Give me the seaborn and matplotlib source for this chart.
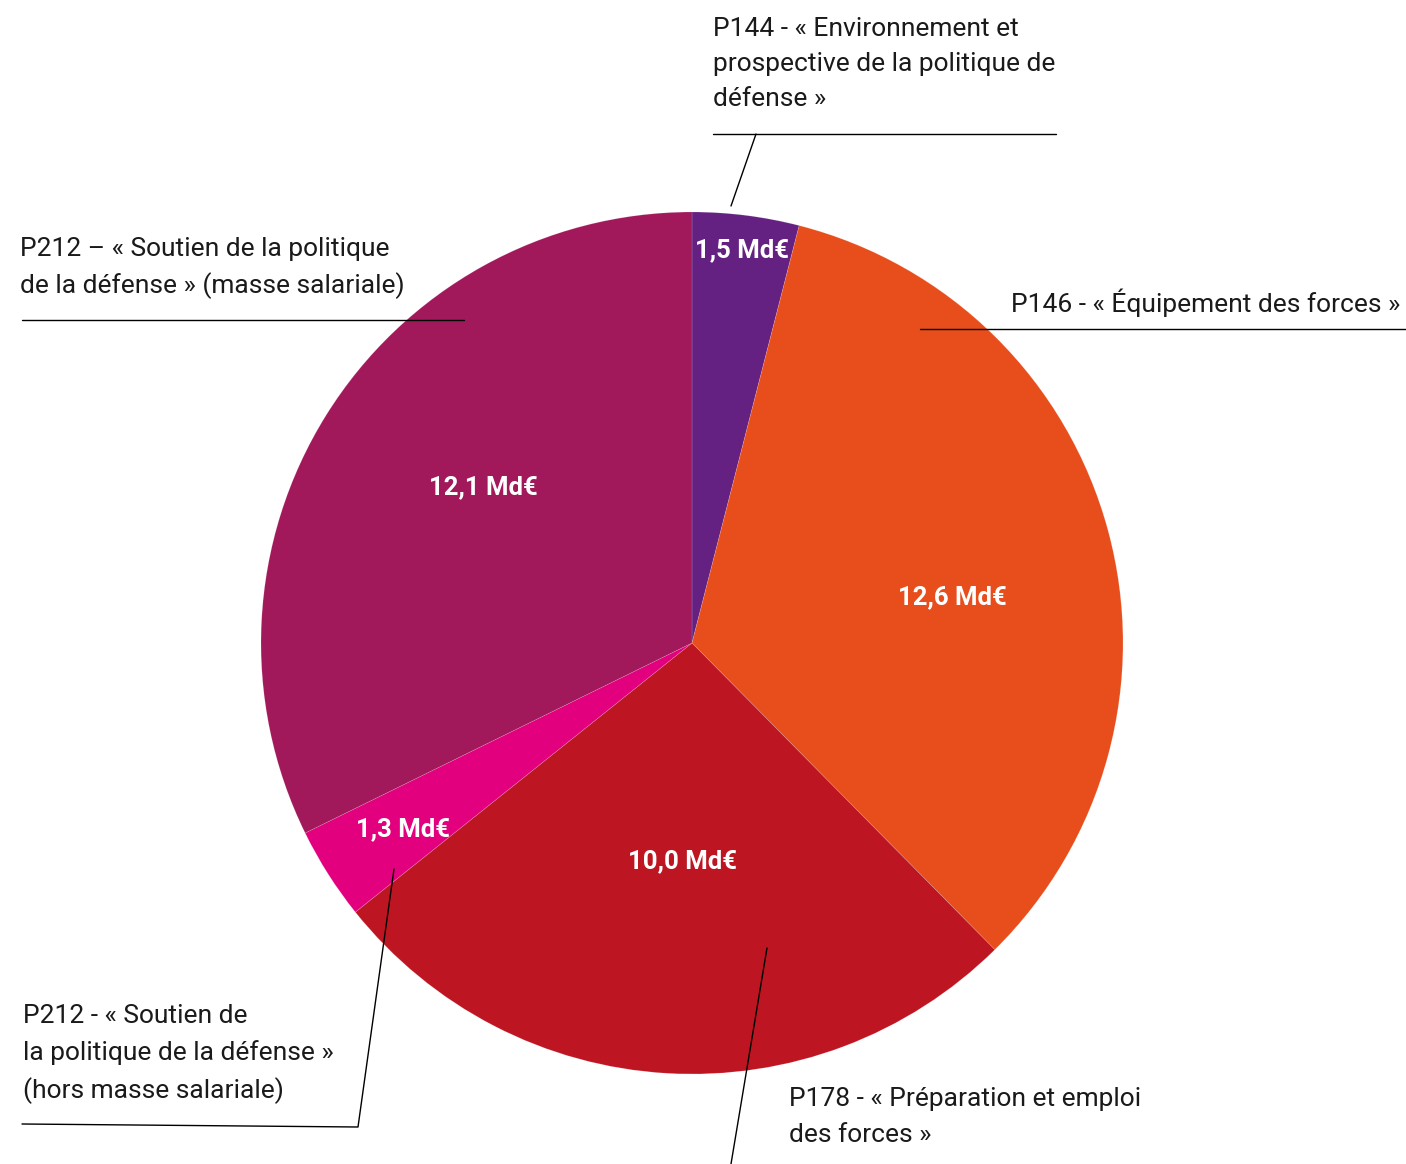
import matplotlib
matplotlib.use("Agg")
import matplotlib.pyplot as plt
import seaborn as sns

# ---- data ----
programmes = [
    "P144 - « Environnement et\nprospective de la politique de\ndéfense »",
    "P146 - « Équipement des forces »",
    "P178 - « Préparation et emploi\ndes forces »",
    "P212 - « Soutien de\nla politique de la défense »\n(hors masse salariale)",
    "P212 – « Soutien de la politique\nde la défense » (masse salariale)",
]
values = [1.5, 12.6, 10.0, 1.3, 12.1]
colors = ["#642181", "#E84E1C", "#BD1622", "#E3007E", "#A1195B"]

W, H = 1406, 1164

sns.set_theme(style="white")
plt.rcParams["font.family"] = ["Roboto", "DejaVu Sans"]

fig = plt.figure(figsize=(W / 100, H / 100), dpi=100)
ax = fig.add_axes([0, 0, 1, 1])


def Y(y):
    return H - y


cx, cy, R = 692, Y(643), 431
wedges, _ = ax.pie(values, colors=colors, startangle=90, counterclock=False,
                   center=(cx, cy), radius=R,
                   wedgeprops=dict(linewidth=0.5, edgecolor="#ffffff30"))
ax.set_xlim(0, W)
ax.set_ylim(0, H)
ax.set_aspect("equal")
ax.axis("off")

# value labels
val_pos = [(742, 250), (952, 597), (683, 861), (403, 829), (483, 487)]
for v, (x, y) in zip(values, val_pos):
    ax.text(x, Y(y), f"{v:.1f}".replace(".", ",") + " Md€", color="white",
            fontsize=18.5, fontweight="bold", ha="center", va="center")

# category labels
lab_pos = [(713, 64, "left"), (1400, 303, "right"), (789, 1117, "left"),
           (23, 1054, "left"), (20, 268, "left")]
for txt, (x, y, ha) in zip(programmes, lab_pos):
    ax.text(x, Y(y), txt, fontsize=19, color="#1a1a1a", ha=ha, va="center",
            linespacing=1.58)

# leader lines
lk = dict(color="black", lw=1)
ax.plot([713, 1056], [Y(134), Y(134)], **lk)
ax.plot([756, 731], [Y(134), Y(206)], **lk)
ax.plot([22, 464], [Y(320), Y(320)], **lk)
ax.plot([920, 1406], [Y(329), Y(329)], **lk)
ax.plot([22, 358, 394], [Y(1124), Y(1127), Y(869)], **lk)
ax.plot([767, 731], [Y(948), Y(1164)], **lk)

fig.savefig("out.png", dpi=100, facecolor="white")
